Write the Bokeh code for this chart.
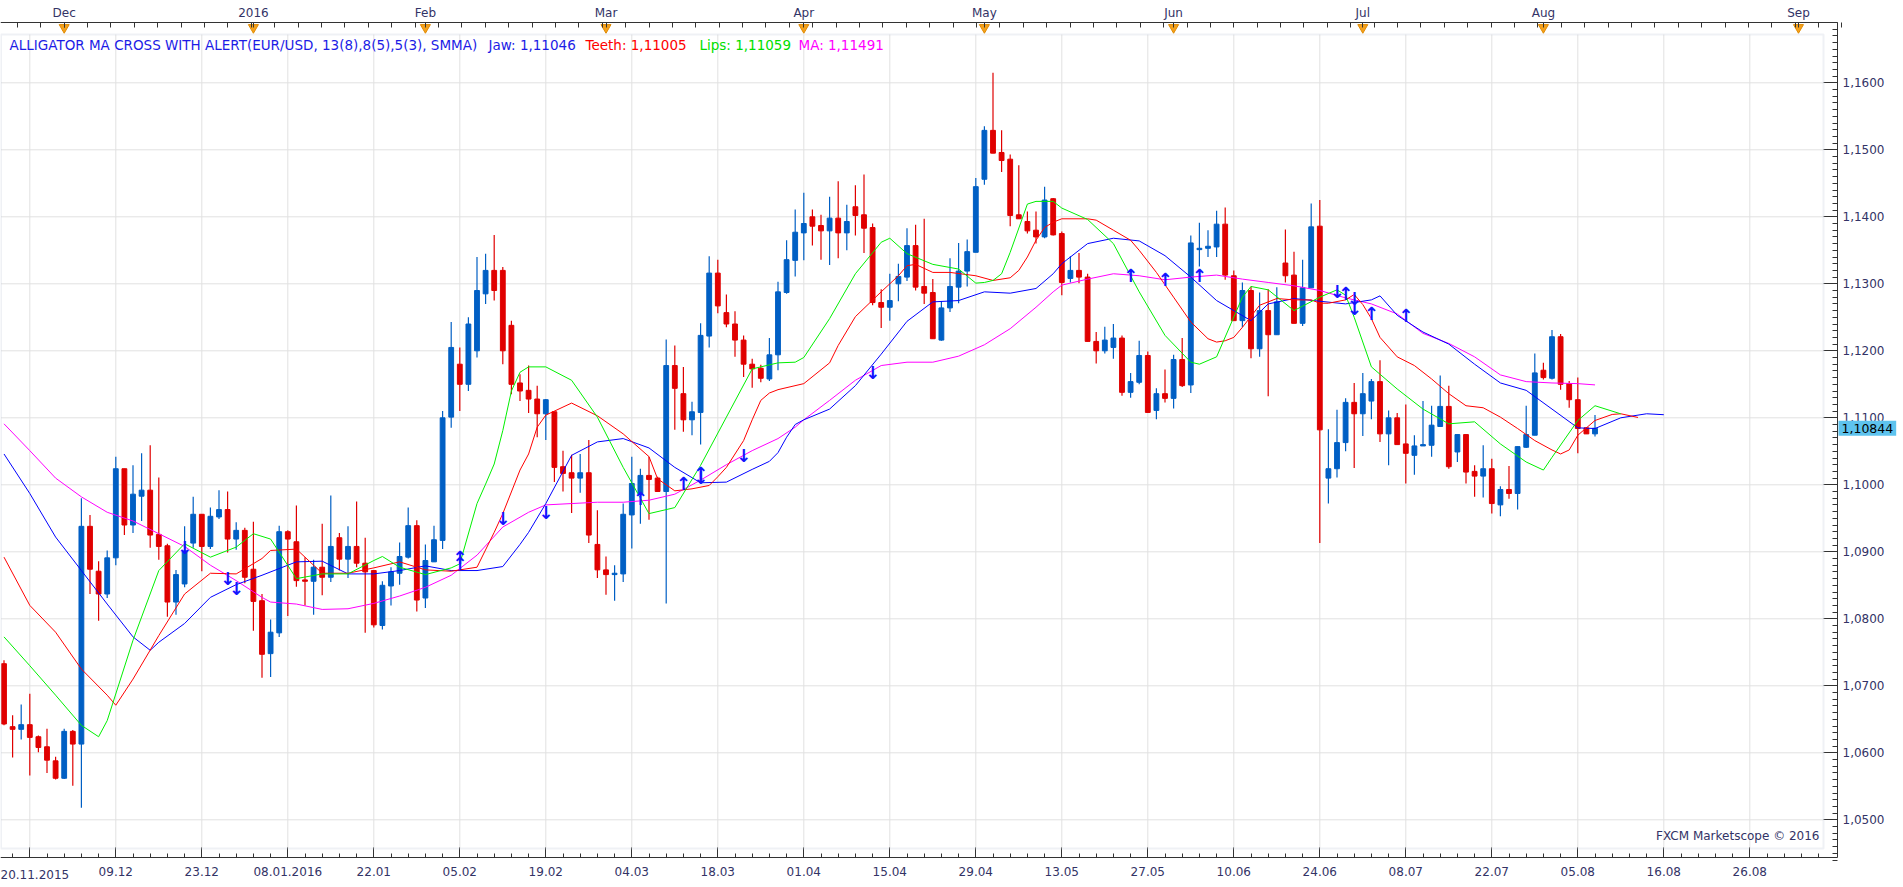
from bokeh.plotting import figure
from bokeh.models import (Range1d, LinearAxis, FixedTicker, CustomJSTickFormatter,
                          BoxAnnotation, Label, ColumnDataSource)
from bokeh.core.properties import value
from bokeh.embed import file_html
from bokeh.resources import INLINE

# ---------------- data (EUR/USD daily, bar index 0 = 20.11.2015) ----------------
opens = [
    1.0733, 1.0639, 1.0635, 1.0642, 1.0624, 1.0609, 1.0588, 1.0562, 1.0632, 1.0613,
    1.0938, 1.0871, 1.0837, 1.0891, 1.1024, 1.0940, 1.0983, 1.0992, 1.0926, 1.0909,
    1.0825, 1.0852, 1.0913, 1.0956, 1.0908, 1.0952, 1.0963, 1.0919, 1.0932, 1.0874,
    1.0827, 1.0748, 1.0779, 1.0930, 1.0915, 1.0858, 1.0856, 1.0877, 1.0862, 1.0921,
    1.0889, 1.0908, 1.0883, 1.0872, 1.0790, 1.0849, 1.0868, 1.0892, 1.0939, 1.0831,
    1.0885, 1.0917, 1.1101, 1.1180, 1.1150, 1.1200, 1.1285, 1.1320, 1.1320, 1.1238,
    1.1152, 1.1141, 1.1128, 1.1106, 1.1109, 1.1027, 1.1018, 1.1010, 1.1018, 1.0911,
    1.0873, 1.0866, 1.0867, 1.0955, 1.0987, 1.1014, 1.1010, 1.0990, 1.1178, 1.1136,
    1.1097, 1.1108, 1.1222, 1.1316, 1.1257, 1.1240, 1.1216, 1.1180, 1.1174, 1.1158,
    1.1194, 1.1287, 1.1335, 1.1376, 1.1400, 1.1387, 1.1379, 1.1398, 1.1376, 1.1415,
    1.1403, 1.1384, 1.1272, 1.1265, 1.1300, 1.1310, 1.1357, 1.1296, 1.1287, 1.1216,
    1.1264, 1.1295, 1.1319, 1.1347, 1.1456, 1.1529, 1.1496, 1.1486, 1.1403, 1.1393,
    1.1380, 1.1370, 1.1427, 1.1375, 1.1308, 1.1320, 1.1310, 1.1214, 1.1200, 1.1205,
    1.1219, 1.1138, 1.1153, 1.1193, 1.1111, 1.1136, 1.1129, 1.1187, 1.1149, 1.1351,
    1.1353, 1.1355, 1.1389, 1.1312, 1.1245, 1.1290, 1.1203, 1.1260, 1.1224, 1.1331,
    1.1313, 1.1241, 1.1294, 1.1386, 1.1010, 1.1024, 1.1063, 1.1123, 1.1106, 1.1125,
    1.1154, 1.1076, 1.1100, 1.1061, 1.1044, 1.1058, 1.1059, 1.1087, 1.1117, 1.1049,
    1.1075, 1.1020, 1.1013, 1.1024, 1.0970, 1.0993, 1.0987, 1.1056, 1.1074, 1.1171,
    1.1159, 1.1221, 1.1151, 1.1127, 1.1085, 1.1076,
]
highs = [
    1.0738, 1.0656, 1.0672, 1.0688, 1.0626, 1.0636, 1.0594, 1.0636, 1.0634, 1.0980,
    1.0955, 1.0886, 1.0902, 1.1042, 1.1024, 1.1029, 1.1047, 1.1059, 1.1011, 1.0912,
    1.0873, 1.0938, 1.0982, 1.0956, 1.0966, 1.0992, 1.0990, 1.0944, 1.0936, 1.0945,
    1.0837, 1.0799, 1.0939, 1.0932, 1.0969, 1.0892, 1.0888, 1.0942, 1.0984, 1.0928,
    1.0938, 1.0975, 1.0921, 1.0873, 1.0856, 1.0877, 1.0914, 1.0966, 1.0947, 1.0911,
    1.0939, 1.1110, 1.1243, 1.1205, 1.1250, 1.1340, 1.1345, 1.1373, 1.1325, 1.1245,
    1.1165, 1.1178, 1.1148, 1.1128, 1.1109, 1.1051, 1.1045, 1.1046, 1.1067, 1.0962,
    1.0893, 1.0880, 1.0972, 1.1042, 1.1024, 1.1042, 1.1012, 1.1217, 1.1208, 1.1176,
    1.1124, 1.1241, 1.1341, 1.1336, 1.1284, 1.1259, 1.1223, 1.1188, 1.1179, 1.1219,
    1.1303, 1.1365, 1.1411, 1.1436, 1.1411, 1.1403, 1.1430, 1.1453, 1.1418, 1.1447,
    1.1463, 1.1390, 1.1292, 1.1315, 1.1330, 1.1383, 1.1388, 1.1397, 1.1307, 1.1274,
    1.1338, 1.1361, 1.1366, 1.1458, 1.1535, 1.1615, 1.1529, 1.1493, 1.1477, 1.1408,
    1.1408, 1.1445, 1.1428, 1.1378, 1.1341, 1.1346, 1.1315, 1.1228, 1.1236, 1.1240,
    1.1223, 1.1167, 1.1215, 1.1199, 1.1144, 1.1172, 1.1194, 1.1219, 1.1372, 1.1391,
    1.1380, 1.1409, 1.1414, 1.1320, 1.1302, 1.1296, 1.1287, 1.1292, 1.1295, 1.1381,
    1.1348, 1.1336, 1.1420, 1.1425, 1.1083, 1.1112, 1.1129, 1.1152, 1.1167, 1.1158,
    1.1186, 1.1111, 1.1107, 1.1120, 1.1074, 1.1125, 1.1118, 1.1163, 1.1148, 1.1075,
    1.1075, 1.1029, 1.1059, 1.1039, 1.0998, 1.1028, 1.1057, 1.1118, 1.1196, 1.1182,
    1.1231, 1.1225, 1.1155, 1.1160, 1.1086, 1.1104,
]
lows = [
    1.0641, 1.0593, 1.0620, 1.0566, 1.0601, 1.0570, 1.0560, 1.0561, 1.0551, 1.0518,
    1.0837, 1.0797, 1.0831, 1.0880, 1.0925, 1.0928, 1.0946, 1.0906, 1.0888, 1.0803,
    1.0806, 1.0847, 1.0906, 1.0871, 1.0904, 1.0949, 1.0899, 1.0903, 1.0853, 1.0782,
    1.0712, 1.0713, 1.0773, 1.0804, 1.0848, 1.0820, 1.0806, 1.0835, 1.0855, 1.0872,
    1.0861, 1.0877, 1.0779, 1.0787, 1.0784, 1.0820, 1.0851, 1.0890, 1.0811, 1.0816,
    1.0885, 1.0904, 1.1085, 1.1110, 1.1140, 1.1190, 1.1270, 1.1275, 1.1180, 1.1135,
    1.1125, 1.1107, 1.1071, 1.1067, 1.1004, 1.0990, 1.0958, 1.0988, 1.0913, 1.0861,
    1.0836, 1.0827, 1.0855, 1.0905, 1.0942, 1.0948, 1.0990, 1.0823, 1.1082, 1.1079,
    1.1074, 1.1060, 1.1205, 1.1256, 1.1235, 1.1191, 1.1161, 1.1145, 1.1153, 1.1155,
    1.1171, 1.1285, 1.1311, 1.1335, 1.1357, 1.1336, 1.1328, 1.1338, 1.1350, 1.1372,
    1.1346, 1.1268, 1.1234, 1.1245, 1.1274, 1.1304, 1.1290, 1.1270, 1.1218, 1.1215,
    1.1258, 1.1271, 1.1296, 1.1347, 1.1448, 1.1495, 1.1467, 1.1386, 1.1397, 1.1375,
    1.1360, 1.1368, 1.1372, 1.1283, 1.1302, 1.1301, 1.1214, 1.1181, 1.1196, 1.1188,
    1.1133, 1.1130, 1.1150, 1.1108, 1.1098, 1.1123, 1.1114, 1.1146, 1.1137, 1.1326,
    1.1340, 1.1340, 1.1306, 1.1245, 1.1235, 1.1189, 1.1191, 1.1132, 1.1224, 1.1302,
    1.1241, 1.1237, 1.1294, 1.0913, 1.0972, 1.1011, 1.1050, 1.1025, 1.1073, 1.1098,
    1.1064, 1.1029, 1.1060, 1.1002, 1.1015, 1.1058, 1.1042, 1.1087, 1.1024, 1.1034,
    1.1002, 1.0982, 1.0981, 1.0957, 1.0953, 1.0979, 1.0963, 1.1055, 1.1074, 1.1157,
    1.1157, 1.1142, 1.1115, 1.1047, 1.1076, 1.1072,
]
closes = [
    1.0643, 1.0635, 1.0642, 1.0623, 1.0608, 1.0589, 1.0562, 1.0632, 1.0613, 1.0938,
    1.0874, 1.0837, 1.0891, 1.1024, 1.0940, 1.0986, 1.0992, 1.0925, 1.0908, 1.0825,
    1.0866, 1.0901, 1.0956, 1.0908, 1.0953, 1.0963, 1.0919, 1.0932, 1.0862, 1.0826,
    1.0747, 1.0780, 1.0930, 1.0919, 1.0857, 1.0856, 1.0877, 1.0862, 1.0908, 1.0889,
    1.0908, 1.0883, 1.0870, 1.0791, 1.0850, 1.0870, 1.0893, 1.0939, 1.0828, 1.0887,
    1.0918, 1.1100, 1.1205, 1.1150, 1.1240, 1.1290, 1.1320, 1.1290, 1.1200, 1.1150,
    1.1140, 1.1128, 1.1106, 1.1127, 1.1026, 1.1017, 1.1010, 1.1018, 1.0925, 1.0873,
    1.0866, 1.0868, 1.0956, 1.1002, 1.1014, 1.1008, 1.0990, 1.1178, 1.1144, 1.1097,
    1.1109, 1.1223, 1.1316, 1.1267, 1.1240, 1.1216, 1.1180, 1.1173, 1.1159, 1.1194,
    1.1288, 1.1336, 1.1377, 1.1390, 1.1386, 1.1379, 1.1398, 1.1376, 1.1393, 1.1402,
    1.1383, 1.1272, 1.1265, 1.1275, 1.1311, 1.1357, 1.1295, 1.1286, 1.1218, 1.1264,
    1.1296, 1.1319, 1.1348, 1.1445, 1.1529, 1.1495, 1.1484, 1.1402, 1.1397, 1.1379,
    1.1370, 1.1425, 1.1373, 1.1302, 1.1320, 1.1310, 1.1214, 1.1200, 1.1216, 1.1219,
    1.1138, 1.1154, 1.1193, 1.1108, 1.1136, 1.1129, 1.1187, 1.1148, 1.1361, 1.1353,
    1.1356, 1.1389, 1.1313, 1.1245, 1.1290, 1.1203, 1.1260, 1.1224, 1.1273, 1.1312,
    1.1241, 1.1294, 1.1385, 1.1082, 1.1024, 1.1063, 1.1123, 1.1106, 1.1136, 1.1154,
    1.1076, 1.1100, 1.1060, 1.1047, 1.1058, 1.1060, 1.1089, 1.1117, 1.1027, 1.1075,
    1.1019, 1.1013, 1.1024, 1.0972, 1.0993, 1.0987, 1.1057, 1.1075, 1.1167, 1.1160,
    1.1221, 1.1150, 1.1127, 1.1084, 1.1076, 1.10844,
]

jaw_idx = [0, 3, 6, 9, 12, 15, 17, 18, 21, 24, 27, 30, 34, 37, 40, 43, 46, 49, 52, 55,
           58, 60, 61, 63, 66, 69, 72, 75, 78, 81, 84, 87, 89, 90, 91, 92, 93, 96, 99, 102,
           105, 108, 111, 114, 117, 120, 122, 123, 126, 129, 132, 135, 138, 141, 145, 147,
           150, 153, 156, 159, 160, 162, 165, 168, 171, 174, 177, 180, 183, 185, 188, 191, 193]
jaw_val = [1.1046, 1.0987, 1.0922, 1.0872, 1.0822, 1.0773, 1.0753, 1.0765, 1.0793, 1.0832,
           1.0851, 1.0865, 1.0885, 1.0886, 1.0867, 1.0867, 1.0872, 1.0879, 1.0872, 1.0872,
           1.0878, 1.0911, 1.0929, 1.0972, 1.1044, 1.1064, 1.1069, 1.1055, 1.1026, 1.1003,
           1.1004, 1.1023, 1.1035, 1.1048, 1.1071, 1.1090, 1.1097, 1.1113, 1.1148, 1.1195,
           1.1244, 1.1273, 1.1275, 1.1288, 1.1286, 1.1293, 1.1315, 1.1330, 1.1360, 1.1368,
           1.1364, 1.1342, 1.1310, 1.1275, 1.1245, 1.1270, 1.1278, 1.1274, 1.1270, 1.1276,
           1.1282, 1.1253, 1.1228, 1.1210, 1.1180, 1.1152, 1.1141, 1.1113, 1.1085, 1.1084,
           1.1100, 1.1106, 1.11046]

teeth_idx = [0, 3, 6, 9, 12, 13, 15, 18, 21, 24, 27, 30, 31, 34, 37, 40, 43, 46, 49, 52,
             55, 57, 58, 60, 61, 62, 63, 66, 69, 72, 75, 76, 78, 80, 82, 83, 84, 86, 87, 88,
             89, 90, 93, 96, 97, 99, 102, 104, 105, 106, 108, 110, 113, 115, 117, 118, 119,
             120, 121, 122, 123, 126, 127, 129, 131, 132, 134, 136, 138, 140, 141, 142, 143,
             144, 146, 148, 150, 152, 153, 154, 156, 157, 158, 159, 160, 162, 164, 166, 168,
             170, 172, 174, 176, 178, 180, 181, 182, 183, 185, 187, 188, 190]
teeth_val = [1.0892, 1.0820, 1.0780, 1.0725, 1.0686, 1.0671, 1.0710, 1.0775, 1.0837, 1.0868,
             1.0867, 1.0890, 1.0902, 1.0904, 1.0868, 1.0868, 1.0876, 1.0885, 1.0873, 1.0871,
             1.0877, 1.0929, 1.0957, 1.1022, 1.1046, 1.1086, 1.1104, 1.1122, 1.1103, 1.1076,
             1.1042, 1.1009, 1.0991, 1.0994, 1.0999, 1.1012, 1.1026, 1.1066, 1.1097, 1.1126,
             1.1137, 1.1142, 1.1151, 1.1182, 1.1208, 1.1251, 1.1288, 1.1312, 1.1327, 1.1329,
             1.1317, 1.1317, 1.1312, 1.1305, 1.1309, 1.1320, 1.1340, 1.1365, 1.1384, 1.1392,
             1.1397, 1.1397, 1.1395, 1.1380, 1.1365, 1.1350, 1.1317, 1.1280, 1.1243, 1.1218,
             1.1213, 1.1215, 1.1220, 1.1235, 1.1268, 1.1278, 1.1276, 1.1276, 1.1271, 1.1271,
             1.1276, 1.1284, 1.1269, 1.1248, 1.1220, 1.1191, 1.1178, 1.1158, 1.1136, 1.1118,
             1.1115, 1.1101, 1.1084, 1.1066, 1.1052, 1.1046, 1.1052, 1.1074, 1.1096, 1.1105,
             1.1106, 1.11005]

lips_idx = [0, 3, 6, 9, 11, 12, 15, 18, 21, 24, 27, 29, 31, 34, 37, 40, 43, 44, 46, 49,
            52, 53, 55, 56, 57, 58, 59, 60, 61, 63, 66, 69, 72, 75, 78, 81, 84, 87, 90, 92,
            93, 96, 99, 102, 103, 105, 108, 111, 113, 114, 115, 116, 117, 119, 120, 122, 123,
            126, 129, 132, 135, 138, 139, 141, 144, 145, 147, 150, 153, 155, 156, 157, 159,
            162, 165, 168, 171, 174, 177, 179, 180, 183, 185, 188]
lips_val = [1.0773, 1.0730, 1.0686, 1.0641, 1.0624, 1.0648, 1.0768, 1.0872, 1.0912, 1.0892,
            1.0907, 1.0927, 1.0919, 1.0860, 1.0867, 1.0867, 1.0887, 1.0893, 1.0877, 1.0866,
            1.0876, 1.0882, 1.0972, 1.1001, 1.1031, 1.1081, 1.1140, 1.1168, 1.1176, 1.1176,
            1.1156, 1.1101, 1.1026, 1.0957, 1.0966, 1.1029, 1.1101, 1.1173, 1.1182, 1.1183,
            1.1190, 1.1248, 1.1315, 1.1362, 1.1368, 1.1345, 1.1329, 1.1322, 1.1301, 1.1302,
            1.1305, 1.1315, 1.1347, 1.1419, 1.1423, 1.1423, 1.1413, 1.1396, 1.1360, 1.1288,
            1.1223, 1.1183, 1.1180, 1.1191, 1.1280, 1.1296, 1.1291, 1.1260, 1.1280, 1.1291,
            1.1283, 1.1250, 1.1176, 1.1143, 1.1113, 1.1091, 1.1094, 1.1061, 1.1034, 1.1022,
            1.1041, 1.1096, 1.1118, 1.11059]

ma_idx = [0, 3, 6, 9, 12, 15, 18, 21, 24, 27, 30, 31, 34, 37, 40, 43, 46, 49, 52, 55,
          58, 61, 63, 66, 69, 72, 75, 78, 81, 84, 87, 90, 92, 93, 96, 99, 102, 105, 108, 111,
          114, 117, 120, 122, 123, 126, 129, 132, 135, 138, 141, 144, 147, 150, 153, 156, 159,
          162, 165, 168, 171, 174, 177, 180, 183, 185]
ma_val = [1.1091, 1.1051, 1.1010, 1.0982, 1.0959, 1.0946, 1.0927, 1.0908, 1.0880, 1.0857,
          1.0832, 1.0825, 1.0822, 1.0814, 1.0815, 1.0823, 1.0834, 1.0847, 1.0865, 1.0895,
          1.0937, 1.0959, 1.0970, 1.0972, 1.0974, 1.0974, 1.0977, 1.0986, 1.1007, 1.1030,
          1.1051, 1.1069, 1.1086, 1.1097, 1.1126, 1.1156, 1.1178, 1.1183, 1.1183, 1.1192,
          1.1209, 1.1233, 1.1265, 1.1288, 1.1298, 1.1307, 1.1315, 1.1312, 1.1306, 1.1310,
          1.1313, 1.1307, 1.1302, 1.1297, 1.1290, 1.1279, 1.1270, 1.1255, 1.1226, 1.1211,
          1.1191, 1.1164, 1.1154, 1.1152, 1.1151, 1.11491]

# alert arrows (bar index, price, direction)
arrow_idx = [21, 26, 27, 53, 53, 58, 63, 74, 79, 81, 81, 86, 101, 131, 135, 139,
             155, 156, 157, 157, 159, 163]
arrow_val = [1.0907, 1.0860, 1.0845, 1.0891, 1.0883, 1.0949, 1.0959, 1.0979, 1.1002,
             1.1017, 1.1011, 1.1044, 1.1168, 1.1312, 1.1307, 1.1312, 1.1288, 1.1285,
             1.1278, 1.1263, 1.1255, 1.1253]
arrow_dir = ["down", "down", "down", "up", "up", "down", "down", "up", "up", "up", "down",
             "down", "down", "up", "up", "up", "down", "up", "down", "down", "up", "up"]

# axis labels
date_tick_idx = [13, 23, 33, 43, 53, 63, 73, 83, 93, 103, 113, 123, 133, 143, 153, 163,
                 173, 183, 193, 203]
date_tick_labels = ["09.12", "23.12", "08.01.2016", "22.01", "05.02", "19.02", "04.03",
                    "18.03", "01.04", "15.04", "29.04", "13.05", "27.05", "10.06", "24.06",
                    "08.07", "22.07", "05.08", "16.08", "26.08"]
first_date_label = "20.11.2015"
month_idx = [7, 29, 49, 70, 93, 114, 136, 158, 179, 208.66]
month_labels = ["Dec", "2016", "Feb", "Mar", "Apr", "May", "Jun", "Jul", "Aug", "Sep"]
price_ticks = [1.05, 1.06, 1.07, 1.08, 1.09, 1.10, 1.11, 1.12, 1.13, 1.14, 1.15, 1.16]
last_price = 1.10844
last_price_text = "1,10844"

title_text = "ALLIGATOR MA CROSS WITH ALERT(EUR/USD, 13(8),8(5),5(3), SMMA)"
legend_texts = ["Jaw: 1,11046", "Teeth: 1,11005", "Lips: 1,11059", "MA: 1,11491"]
copyright_text = "FXCM Marketscope \u00a9 2016"

# ---------------- styling / layout ----------------
UP = "#005fc4"
DOWN = "#e00000"
AXIS_TXT = "#333366"
FONT = "DejaVu Sans"
PX_PER_BAR = 8.6
X0_PX = 3.5


def px_to_x(px):
    return (px - X0_PX) / PX_PER_BAR


def py_to_price(py):
    return 1.16 - (py - 82.3) / 6700.0


W, H = 1903, 887
AX_R, AX_T, AX_B = 1837, 22, 857   # pixel positions of the three axis lines

# the frame covers the whole canvas; axes are pinned with fixed_location
p = figure(width=W, height=H, output_backend="svg", toolbar_location=None,
           x_range=Range1d(px_to_x(0), px_to_x(W)),
           y_range=Range1d(py_to_price(H), py_to_price(0)),
           x_axis_location=None, y_axis_location=None,
           min_border_left=0, min_border_right=0, min_border_top=0, min_border_bottom=0)
p.outline_line_color = None
p.grid.visible = False
p.background_fill_color = "white"
p.border_fill_color = "white"

# panel (inner frame) bounds
pan_l, pan_r = px_to_x(0.5), px_to_x(1823)
pan_t, pan_b = py_to_price(34), py_to_price(848)

# grid lines
vgrid = [3 + 10 * k for k in range(21)]
p.segment(x0=vgrid, y0=[pan_b] * len(vgrid), x1=vgrid, y1=[pan_t] * len(vgrid),
          line_color="#e2e2e2", line_width=1)
p.segment(x0=[pan_l] * len(price_ticks), y0=price_ticks, x1=[pan_r] * len(price_ticks),
          y1=price_ticks, line_color="#e2e2e2", line_width=1)

p.add_layout(BoxAnnotation(left=pan_l, right=pan_r, top=pan_t, bottom=pan_b,
                           fill_alpha=0, line_color="#c9d2de", line_width=2))

# candles
n = len(opens)
src = ColumnDataSource(dict(
    x=list(range(n)),
    top=[max(o, c) for o, c in zip(opens, closes)],
    bottom=[min(o, c) for o, c in zip(opens, closes)],
    high=highs, low=lows,
    color=[UP if c >= o else DOWN for o, c in zip(opens, closes)],
))
p.segment(x0="x", y0="low", x1="x", y1="high", line_color="color", line_width=1.2, source=src)
p.vbar(x="x", width=0.56, top="top", bottom="bottom", fill_color="color",
       line_color="color", line_width=1, source=src)

# indicator lines
p.line(ma_idx, ma_val, line_color="#ff00ff", line_width=1)
p.line(jaw_idx, jaw_val, line_color="#0000ff", line_width=1)
p.line(teeth_idx, teeth_val, line_color="#ff0000", line_width=1)
p.line(lips_idx, lips_val, line_color="#00f000", line_width=1)

# alert arrows
p.text(x=arrow_idx, y=arrow_val, text=["\u2191" if d == "up" else "\u2193" for d in arrow_dir],
       text_font=value(FONT), text_font_size="18px", text_font_style="bold",
       text_align="center", text_baseline="middle", text_color="#1414ff")

# month markers (orange triangles on the top axis)
p.scatter(x=month_idx, y=[py_to_price(27)] * len(month_idx), marker="inverted_triangle",
          size=10, fill_color="#f5a11c", line_color="#e08a00", line_width=1)

# ---------------- axes ----------------
x_bounds = (px_to_x(0), px_to_x(AX_R))
y_bounds = (py_to_price(AX_B), py_to_price(AX_T))

top_minor = [7 + 2.72 * k for k in range(-3, 77)]
top_axis = LinearAxis(ticker=FixedTicker(ticks=month_idx, minor_ticks=top_minor),
                      major_label_overrides=dict(zip(month_idx, month_labels)),
                      fixed_location=py_to_price(AX_T), bounds=x_bounds)
top_axis.major_tick_in = 5
top_axis.major_tick_out = 0
top_axis.minor_tick_in = 5
top_axis.minor_tick_out = 0
top_axis.major_label_standoff = 3
p.add_layout(top_axis, "above")

bottom_minor = list(range(1, 212, 2))
bottom_axis = LinearAxis(ticker=FixedTicker(ticks=[3] + date_tick_idx, minor_ticks=bottom_minor),
                         major_label_overrides=dict(zip([3] + date_tick_idx,
                                                        [""] + date_tick_labels)),
                         fixed_location=py_to_price(AX_B), bounds=x_bounds)
bottom_axis.major_tick_in = 10
bottom_axis.major_tick_out = 0
bottom_axis.minor_tick_in = 4
bottom_axis.minor_tick_out = 0
bottom_axis.major_label_standoff = 9
p.add_layout(bottom_axis, "below")

price_minor = [round(1.044 + 0.001 * k, 4) for k in range(126)]
right_axis = LinearAxis(ticker=FixedTicker(ticks=price_ticks, minor_ticks=price_minor),
                        formatter=CustomJSTickFormatter(
                            code="return tick.toFixed(4).replace('.', ',');"),
                        fixed_location=px_to_x(AX_R), bounds=y_bounds)
right_axis.major_tick_in = 14
right_axis.major_tick_out = 0
right_axis.minor_tick_in = 5
right_axis.minor_tick_out = 0
right_axis.major_label_standoff = 5
p.add_layout(right_axis, "right")

for ax in (top_axis, bottom_axis, right_axis):
    ax.axis_line_color = "#333333"
    ax.major_tick_line_color = "#333333"
    ax.minor_tick_line_color = "#333333"
    ax.major_label_text_font = FONT
    ax.major_label_text_font_size = "12px"
    ax.major_label_text_color = AXIS_TXT

# first date label, left aligned
p.add_layout(Label(x=px_to_x(0), y=py_to_price(874), text=first_date_label,
                   text_font=FONT, text_font_size="12px", text_color=AXIS_TXT,
                   text_align="left", text_baseline="middle"))

# legend / title texts
legend_y = py_to_price(44)
p.add_layout(Label(x=px_to_x(9), y=legend_y, text=title_text, text_font=FONT,
                   text_font_size="13.5px", text_color="#1c1ce6", text_baseline="middle"))
legend_px = [488, 585, 699, 798]
legend_colors = ["#1c1ce6", "#ff0000", "#00e000", "#ff00ff"]
for t, xp, col in zip(legend_texts, legend_px, legend_colors):
    p.add_layout(Label(x=px_to_x(xp), y=legend_y, text=t, text_font=FONT,
                       text_font_size="13.5px", text_color=col, text_baseline="middle"))

# copyright
p.add_layout(Label(x=px_to_x(1819), y=py_to_price(835), text=copyright_text, text_font=FONT,
                   text_font_size="12px", text_color=AXIS_TXT, text_align="right",
                   text_baseline="middle"))

# last price tag on the right axis
p.add_layout(Label(x=px_to_x(AX_R), x_offset=1, y=last_price, text=last_price_text,
                   text_font=FONT, text_font_size="12.5px", text_color="black",
                   text_align="left", text_baseline="middle",
                   background_fill_color="#5ec3ee", padding=3))

open("out.html", "w").write(file_html(p, INLINE))
